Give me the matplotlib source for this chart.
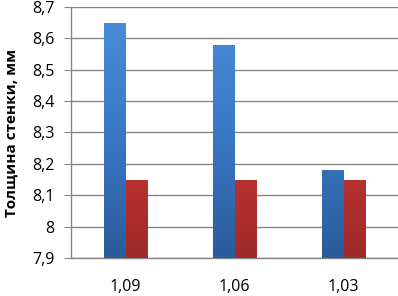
import numpy as np
import matplotlib
matplotlib.use("Agg")
import matplotlib.pyplot as plt
from matplotlib.colors import LinearSegmentedColormap
from matplotlib.ticker import FuncFormatter

categories = ["1,09", "1,06", "1,03"]
blue_values = [8.65, 8.58, 8.18]
red_values = [8.15, 8.15, 8.15]
y_ticks = [7.9, 8.0, 8.1, 8.2, 8.3, 8.4, 8.5, 8.6, 8.7]

plt.rcParams["font.family"] = ["Open Sans", "DejaVu Sans"]

fig = plt.figure(figsize=(3.98, 2.96), dpi=100)
ax = fig.add_axes([71 / 398, 38 / 296, 327 / 398, 251 / 296])

x = np.arange(len(categories))
w = 0.2
ymin, ymax = 7.9, 8.7

blue_cmap = LinearSegmentedColormap.from_list("b", ["#2B5C9C", "#3A78C6", "#4A8EDB"])
red_cmap = LinearSegmentedColormap.from_list("r", ["#9E2B29", "#C73532", "#DA3D39"])


def gradient_bars(xs, vals, cmap):
    bars = ax.bar(xs, [v - ymin for v in vals], w, bottom=ymin, color="none",
                  edgecolor="none", zorder=3)
    # vertical gradient: darker at bottom
    grad = np.linspace(0, 1, 256).reshape(-1, 1)
    for b in bars:
        x0 = b.get_x()
        x1 = x0 + b.get_width()
        im = ax.imshow(grad, cmap=cmap, aspect="auto", origin="lower",
                       extent=[x0, x1, ymin, ymax], zorder=3, interpolation="bilinear")
        im.set_clip_path(b)
    return bars


gradient_bars(x - w / 2, blue_values, blue_cmap)
gradient_bars(x + w / 2, red_values, red_cmap)

ax.set_xlim(-0.5, len(categories) - 0.5)
ax.set_ylim(ymin, ymax)
ax.set_yticks(y_ticks)
ax.yaxis.set_major_formatter(FuncFormatter(lambda v, p: f"{v:g}".replace(".", ",")))
ax.set_xticks(x)
ax.set_xticklabels(categories)

ax.grid(axis="y", color="#868686", linewidth=1, zorder=0)
ax.set_axisbelow(True)
for s in ["top", "right"]:
    ax.spines[s].set_visible(False)
for s in ["left", "bottom"]:
    ax.spines[s].set_color("#868686")
    ax.spines[s].set_linewidth(1)

ax.tick_params(axis="y", length=5, color="#868686", labelsize=11.5, pad=7)
ax.tick_params(axis="x", length=0, labelsize=11.5, pad=15)
ax.set_ylabel("Толщина стенки, мм", fontsize=11, fontweight="bold", labelpad=10)

fig.savefig("out.png", dpi=100)
